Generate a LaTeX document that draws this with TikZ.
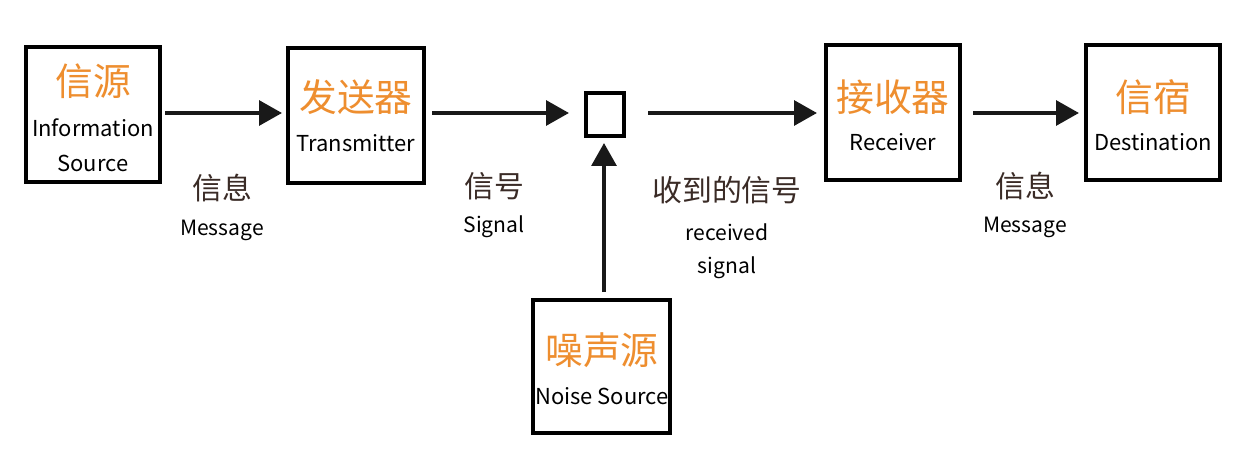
\documentclass[tikz,border=0pt]{standalone}
\usepackage{fontspec}
\setmainfont{Noto Sans CJK SC}
\newfontfamily\cjk{Noto Sans CJK SC}
\usetikzlibrary{arrows.meta}
\definecolor{orangeT}{HTML}{EE8E2F}
\definecolor{inkT}{HTML}{3A2B26}
\tikzset{
  blk/.style={draw=black, line width=1.8pt, fill=white},
  conn/.style={draw=black!90, line width=2.2pt, -{Triangle[length=13pt,width=14pt]}},
  ttl/.style={text=orangeT, font=\cjk\fontsize{21.5}{24}\selectfont, inner sep=0pt},
  sub/.style={text=black, font=\fontsize{12.5}{15}\selectfont, inner sep=0pt},
  lbz/.style={text=inkT, font=\cjk\fontsize{17}{20}\selectfont, inner sep=0pt},
  lbe/.style={text=black, font=\fontsize{12}{14}\selectfont, inner sep=0pt},
}
\begin{document}
\begin{tikzpicture}[x=0.02cm,y=-0.02cm]
\useasboundingbox (0,0) rectangle (1252,456);
% boxes
\draw[blk] (26,47) rectangle (160,182);
\draw[blk] (288,48) rectangle (424,183);
\draw[blk] (586,93) rectangle (624,136);
\draw[blk] (826,45) rectangle (960,180);
\draw[blk] (1086,45) rectangle (1220,180);
\draw[blk] (533,300) rectangle (670,433);
\node[ttl] (t1) at (93,81) {信源};
\node[sub] (s1a) at (93,128) {Information};
\node[sub] (s1b) at (93,163) {Source};
\node[ttl] (t2) at (356,97) {发送器};
\node[sub] (s2) at (356,143) {Transmitter};
\node[ttl] (t3) at (893,97) {接收器};
\node[sub] (s3) at (893,142) {Receiver};
\node[ttl] (t4) at (1153,97) {信宿};
\node[sub] (s4) at (1153,142) {Destination};
\node[ttl] (t5) at (602,350) {噪声源};
\node[sub] (s5) at (602,396) {Noise Source};
% connector anchors
\coordinate (a1s) at (165,113); \coordinate (a1e) at (282,113);
\coordinate (a2s) at (432,113); \coordinate (a2e) at (569,113);
\coordinate (a3s) at (648,113); \coordinate (a3e) at (817,113);
\coordinate (a4s) at (973,113); \coordinate (a4e) at (1079,113);
\coordinate (a5s) at (604,292); \coordinate (a5e) at (604,143);
\draw[conn] (a1s) -- (a1e);
\draw[conn] (a2s) -- (a2e);
\draw[conn] (a3s) -- (a3e);
\draw[conn] (a4s) -- (a4e);
\draw[conn] (a5s) -- (a5e);
% labels
\node[lbz] (l1) at (222,188) {信息};
\node[lbe] (l1e) at (222,230) {Message};
\node[lbz] (l2) at (494,186) {信号};
\node[lbe] (l2e) at (494,227) {Signal};
\node[lbz] (l3) at (727,190) {收到的信号};
\node[lbe] (l3e) at (727,232) {received};
\node[lbe] (l3f) at (727,268) {signal};
\node[lbz] (l4) at (1025,186) {信息};
\node[lbe] (l4e) at (1025,227) {Message};
\end{tikzpicture}
\end{document}
